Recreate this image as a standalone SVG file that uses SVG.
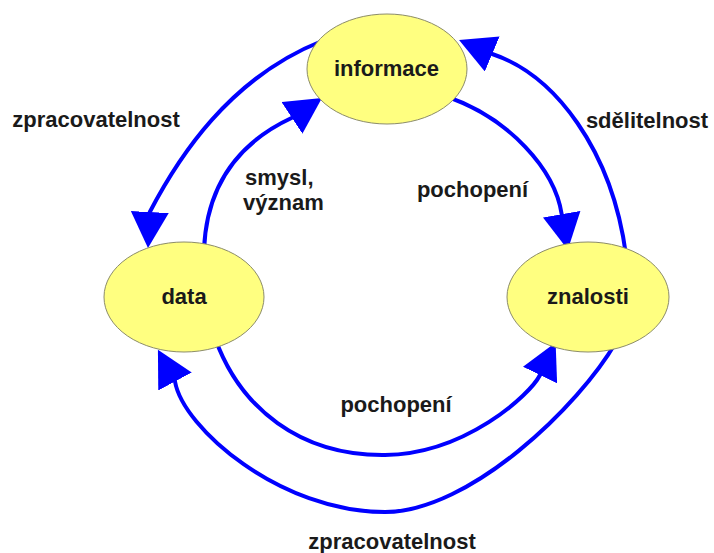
<svg xmlns="http://www.w3.org/2000/svg" width="714" height="553" viewBox="0 0 714 553">
  <style>
    .arc { fill: none; stroke: #0000FF; stroke-width: 4; marker-end: url(#ah); }
    .node ellipse { fill: #FFFF80; stroke: #8C8C6A; stroke-width: 1; }
    text { font-family: "Liberation Sans", Arial, Helvetica, sans-serif; font-weight: bold; font-size: 22px; fill: #1A1A1A; }
    .c { text-anchor: middle; }
  </style>
  <defs>
    <marker id="ah" markerUnits="userSpaceOnUse" markerWidth="36" markerHeight="38" viewBox="0 0 36 38" refX="31" refY="19" orient="auto">
      <path d="M0,0 L36,19 L0,38 Z" fill="#0000FF"/>
    </marker>
  </defs>
  <rect width="714" height="553" fill="#FFFFFF"/>

  <g id="connectors">
    <!-- informace -> data (zpracovatelnost, top-left) -->
    <path class="arc" d="M322,41 C229,78 178,158 149.8,212 L148.25,243"/>
    <!-- data -> informace (smysl, význam) -->
    <path class="arc" d="M204,250 C207,170 255,135 292,117.8 L317.8,100.8"/>
    <!-- informace -> znalosti (pochopení) -->
    <path class="arc" d="M445,96 C510,118 555,170 561.7,214.2 L567,244.7"/>
    <!-- znalosti -> informace (sdělitelnost) -->
    <path class="arc" d="M626,255 C612,150 555,75 492.2,54 L463.65,41.97"/>
    <!-- data -> znalosti (pochopení, bottom inner) -->
    <path class="arc" d="M215,338 C240,408 300,456 385,455 C465,454 530,395 540,375 L553.45,347.1"/>
    <!-- znalosti -> data (zpracovatelnost, bottom outer) -->
    <path class="arc" d="M616,342 C580,405 470,512 385,512 C280,512 183,428 175,381.5 L160.3,354.2"/>
  </g>

  <g id="labels">
    <text class="c" x="96" y="127">zpracovatelnost</text>
    <text class="c" x="647" y="128">sdělitelnost</text>
    <text x="245" y="185">smysl,</text>
    <text x="243" y="210">význam</text>
    <text class="c" x="472.5" y="197">pochopení</text>
    <text class="c" x="396" y="412">pochopení</text>
    <text class="c" x="392" y="549">zpracovatelnost</text>
  </g>

  <g id="node-informace" class="node">
    <ellipse cx="387" cy="69" rx="80" ry="55"/>
    <text class="c" x="386.5" y="76">informace</text>
  </g>
  <g id="node-data" class="node">
    <ellipse cx="184" cy="297" rx="80" ry="55"/>
    <text class="c" x="184" y="304">data</text>
  </g>
  <g id="node-znalosti" class="node">
    <ellipse cx="588" cy="297" rx="81" ry="55"/>
    <text class="c" x="588" y="304">znalosti</text>
  </g>
</svg>
